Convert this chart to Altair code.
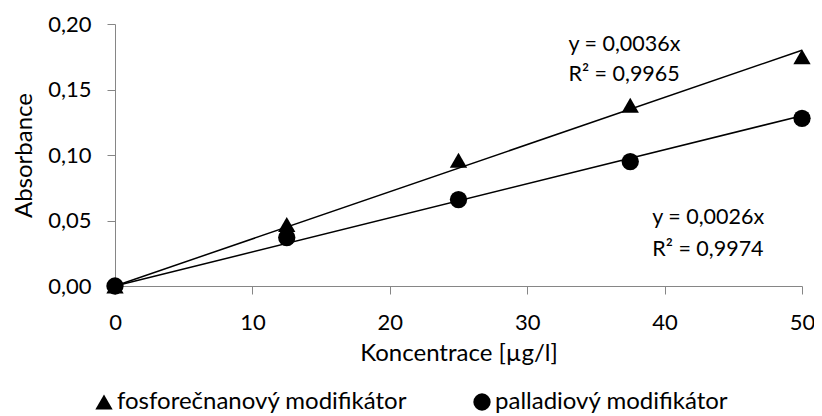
import altair as alt
import pandas as pd

# --- data ---
konc = [0, 12.5, 25, 37.5, 50]
fosf = [0.000, 0.047, 0.096, 0.138, 0.175]
pall = [0.000, 0.037, 0.066, 0.095, 0.128]
series = ["fosforečnanový modifikátor", "palladiový modifikátor"]
shapes = ["triangle-up", "circle"]

# trendlines (from the equations shown)
slopes = [0.0036, 0.0026]
line_x = [0, 50]

# annotation texts and anchors (data units)
ann_text = ["y = 0,0036x", "R² = 0,9965", "y = 0,0026x", "R² = 0,9974"]
ann_x = [33.0, 33.0, 39.1, 39.1]
ann_y = [0.184, 0.161, 0.052, 0.0275]

x_ticks = [0, 10, 20, 30, 40, 50]
y_ticks = [0, 0.05, 0.10, 0.15, 0.20]

FONT = "Lato"
FS_TICK = 22
FS_TITLE = 24
FS_ANN = 21.5

pts = pd.DataFrame(
    [{"x": xv, "y": yv, "s": series[0]} for xv, yv in zip(konc, fosf)]
    + [{"x": xv, "y": yv, "s": series[1]} for xv, yv in zip(konc, pall)]
)
lines = pd.DataFrame(
    [{"x": xv, "y": m * xv, "s": s} for m, s in zip(slopes, series) for xv in line_x]
)
ann = pd.DataFrame({"t": ann_text, "x": ann_x, "y": ann_y})

xs = alt.Scale(domain=[0, 50], nice=False, zero=False)
ys = alt.Scale(domain=[0, 0.2], nice=False, zero=False)

x_axis = alt.Axis(
    values=x_ticks, title="Koncentrace [µg/l]", tickSize=8, labelPadding=28,
    labelBaseline="middle", labelFlush=False,
    titleY=67, titleBaseline="middle", titleFontWeight="normal",
)
y_axis = alt.Axis(
    values=y_ticks, title="Absorbance", tickSize=8, labelPadding=16,
    labelFlush=False,
    labelExpr="replace(format(datum.value, '.2f'), '.', ',')",
    titleX=-91, titleBaseline="middle", titleFontWeight="normal",
)

points = alt.Chart(pts).mark_point(filled=True, color="black", opacity=1, size=300).encode(
    x=alt.X("x:Q", scale=xs, axis=x_axis),
    y=alt.Y("y:Q", scale=ys, axis=y_axis),
    shape=alt.Shape(
        "s:N",
        scale=alt.Scale(domain=series, range=shapes),
        legend=alt.Legend(
            title=None, orient="none", direction="horizontal",
            legendX=-23, legendY=366, symbolSize=300, symbolFillColor="black",
            symbolStrokeColor="black", labelFont=FONT, labelFontSize=FS_TITLE,
            labelOffset=1, columnPadding=62, padding=0, labelLimit=400,
        ),
    ),
    order=alt.Order("s:N"),
)

trend = alt.Chart(lines).mark_line(color="black", strokeWidth=1.5).encode(
    x=alt.X("x:Q", scale=xs),
    y=alt.Y("y:Q", scale=ys),
    detail="s:N",
)

texts = alt.Chart(ann).mark_text(
    align="left", baseline="middle", font=FONT, fontSize=FS_ANN, color="black"
).encode(
    x=alt.X("x:Q", scale=xs),
    y=alt.Y("y:Q", scale=ys),
    text="t:N",
)

chart = (
    alt.layer(points, trend, texts)
    .properties(
        width=687, height=262,
        autosize=alt.AutoSizeParams(type="none"),
        padding={"left": 107, "top": 16, "right": 12, "bottom": 130},
    )
    .configure_view(strokeWidth=0)
    .configure_axis(
        grid=False, domainColor="#868686", tickColor="#868686", domainWidth=1,
        labelFont=FONT, labelFontSize=FS_TICK, labelColor="black",
        titleFont=FONT, titleFontSize=FS_TITLE, titleColor="black",
    )
)

chart.save("out.html", embed_options={"renderer": "svg", "actions": False})
